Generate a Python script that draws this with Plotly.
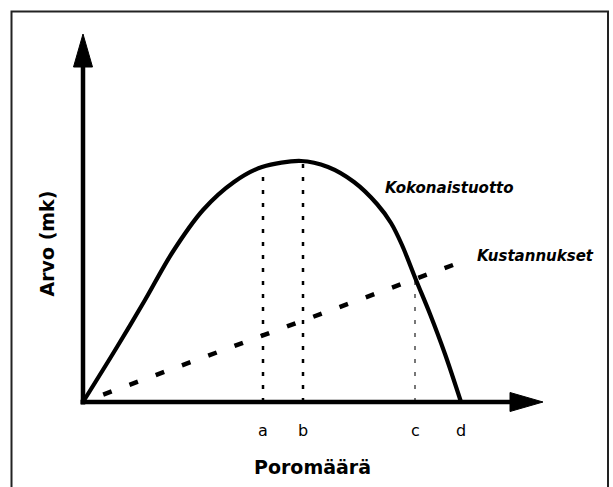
import plotly.graph_objects as go

# ---- data (arbitrary units: Poromäärä on x, Arvo on y) ----
total_x = [0, 3.4, 6.2, 8.9, 12.0, 15.1, 17.9, 21.8, 24.5, 27.1, 29.4, 30.8, 31.9, 33.3, 34.7, 36.2, 37.8]
total_y = [0, 5.5, 10.2, 14.9, 19.2, 22.0, 23.5, 24.1, 23.5, 22.0, 19.8, 17.9, 15.7, 12.2, 8.8, 4.8, 0]

cost_x = [0, 37.0]
cost_y = [0, 13.7]

point_labels = ["a", "b", "c", "d"]
point_x = [18.0, 22.0, 33.2, 37.8]
point_top = [23.5, 24.1, 12.4, 0.0]

x_axis_end = 46.0
y_axis_end = 36.8

FONT = "DejaVu Sans"
BLACK = "#000000"

fig = go.Figure()

# dotted guide lines at a, b, c
for lab, px, top in zip(point_labels, point_x, point_top):
    if top <= 0:
        continue
    thin = lab == "c"
    fig.add_trace(go.Scatter(
        x=[px, px], y=[0, top], mode="lines",
        line=dict(color="#555555" if thin else BLACK, width=1.6 if thin else 2.5,
                  dash="4px,9px"),
        hoverinfo="skip", showlegend=False))

# costs (dashed) - drawn from the far end so the dash pattern ends on a dash
fig.add_trace(go.Scatter(
    x=cost_x[::-1], y=cost_y[::-1], mode="lines",
    line=dict(color=BLACK, width=4.5, dash="9px,19px"),
    hoverinfo="skip", showlegend=False))

# total output curve
fig.add_trace(go.Scatter(
    x=total_x, y=total_y, mode="lines",
    line=dict(color=BLACK, width=4.2, shape="spline", smoothing=0.9),
    hoverinfo="skip", showlegend=False))

# axes
head_len = 3.3
head_half = 0.95
fig.add_trace(go.Scatter(
    x=[-0.25, x_axis_end - head_len + 0.3], y=[0, 0], mode="lines",
    line=dict(color=BLACK, width=4.5), hoverinfo="skip", showlegend=False))
fig.add_trace(go.Scatter(
    x=[0, 0], y=[-0.25, y_axis_end - head_len + 0.3], mode="lines",
    line=dict(color=BLACK, width=4.5), hoverinfo="skip", showlegend=False))
# arrow heads
fig.add_trace(go.Scatter(
    x=[x_axis_end, x_axis_end - head_len, x_axis_end - head_len, x_axis_end],
    y=[0, head_half, -head_half, 0], mode="lines", fill="toself",
    fillcolor=BLACK, line=dict(color=BLACK, width=1),
    hoverinfo="skip", showlegend=False))
fig.add_trace(go.Scatter(
    x=[0, head_half, -head_half, 0],
    y=[y_axis_end, y_axis_end - head_len, y_axis_end - head_len, y_axis_end],
    mode="lines", fill="toself",
    fillcolor=BLACK, line=dict(color=BLACK, width=1),
    hoverinfo="skip", showlegend=False))

annotations = []
for lab, px in zip(point_labels, point_x):
    annotations.append(dict(x=px, y=-2.8, text=lab, showarrow=False,
                            xanchor="center", yanchor="middle",
                            font=dict(family=FONT, size=16, color=BLACK)))

annotations += [
    dict(x=30.0, y=21.45, text="<b><i>Kokonaistuotto</i></b>", showarrow=False,
         xanchor="left", yanchor="middle",
         font=dict(family=FONT, size=15, color=BLACK)),
    dict(x=39.2, y=14.6, text="<b><i>Kustannukset</i></b>", showarrow=False,
         xanchor="left", yanchor="middle",
         font=dict(family=FONT, size=15, color=BLACK)),
    dict(x=22.95, y=-6.5, text="<b>Poromäärä</b>", showarrow=False,
         xanchor="center", yanchor="middle",
         font=dict(family=FONT, size=19, color=BLACK)),
    dict(x=-3.7, y=15.85, text="<b>Arvo (mk)</b>", showarrow=False,
         textangle=-90, xanchor="center", yanchor="middle",
         font=dict(family=FONT, size=19, color=BLACK)),
]

fig.update_layout(
    width=613, height=487,
    margin=dict(l=0, r=0, t=0, b=0),
    paper_bgcolor="white", plot_bgcolor="white",
    xaxis=dict(range=[-8.3, 53.0], visible=False, fixedrange=True),
    yaxis=dict(range=[-8.5, 40.2], visible=False, fixedrange=True),
    annotations=annotations,
    shapes=[dict(type="rect", xref="paper", yref="paper",
                 x0=11.5 / 613, x1=608 / 613, y0=-0.05, y1=1 - 11.5 / 487,
                 line=dict(color="#222222", width=2))],
    showlegend=False,
)

fig.write_html(
    "out.html",
    config={"displayModeBar": False},
    post_script="document.body.style.margin='0px';document.body.style.overflow='hidden';",
)
